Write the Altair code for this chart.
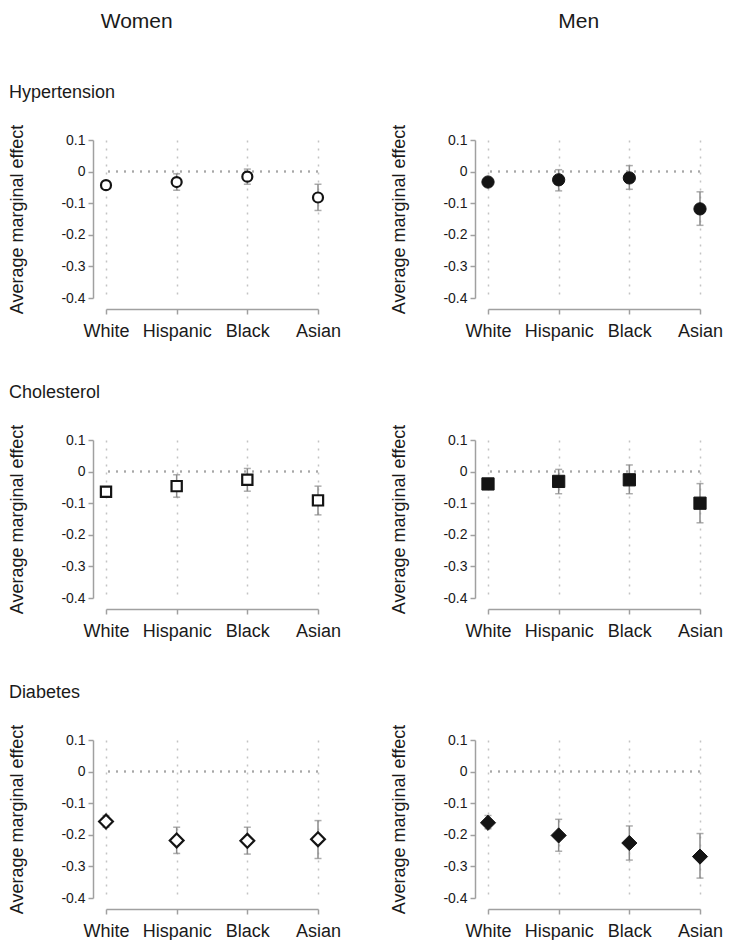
import altair as alt
import pandas as pd

FONT = "Liberation Sans"

groups = ["White", "Hispanic", "Black", "Asian"]
sexes = ["Women", "Men"]
conditions = ["Hypertension", "Cholesterol", "Diabetes"]
shapes = ["circle", "square", "diamond"]
sizes_hollow = [100, 105, 190]
sizes_filled = [150, 150, 230]

# Average marginal effects with 95% CI (lo, hi)
hyp_women = [-0.043, -0.033, -0.016, -0.082]
hyp_women_lo = [-0.050, -0.059, -0.040, -0.123]
hyp_women_hi = [-0.036, -0.007, 0.008, -0.040]
hyp_men = [-0.033, -0.026, -0.020, -0.118]
hyp_men_lo = [-0.040, -0.061, -0.056, -0.170]
hyp_men_hi = [-0.026, 0.006, 0.019, -0.064]

chol_women = [-0.064, -0.046, -0.026, -0.091]
chol_women_lo = [-0.071, -0.081, -0.062, -0.137]
chol_women_hi = [-0.057, -0.010, 0.010, -0.046]
chol_men = [-0.039, -0.031, -0.026, -0.100]
chol_men_lo = [-0.046, -0.070, -0.070, -0.162]
chol_men_hi = [-0.032, 0.007, 0.021, -0.038]

diab_women = [-0.158, -0.218, -0.219, -0.214]
diab_women_lo = [-0.176, -0.259, -0.261, -0.275]
diab_women_hi = [-0.139, -0.176, -0.176, -0.155]
diab_men = [-0.162, -0.202, -0.226, -0.269]
diab_men_lo = [-0.181, -0.252, -0.280, -0.337]
diab_men_hi = [-0.139, -0.151, -0.172, -0.196]

y_ticks = [-0.4, -0.3, -0.2, -0.1, 0, 0.1]

series = {
    ("Hypertension", "Women"): (hyp_women, hyp_women_lo, hyp_women_hi),
    ("Hypertension", "Men"): (hyp_men, hyp_men_lo, hyp_men_hi),
    ("Cholesterol", "Women"): (chol_women, chol_women_lo, chol_women_hi),
    ("Cholesterol", "Men"): (chol_men, chol_men_lo, chol_men_hi),
    ("Diabetes", "Women"): (diab_women, diab_women_lo, diab_women_hi),
    ("Diabetes", "Men"): (diab_men, diab_men_lo, diab_men_hi),
}

PW, PH = 212, 158
AXIS_GREY = "#a0a0a0"
TEXT = "#1a1a1a"
ERR = "#8a8a8a"

x_axis = alt.Axis(
    title=None, labelAngle=0, labelFontSize=18, labelFont=FONT, labelColor=TEXT,
    labelPadding=8, offset=11, domainColor=AXIS_GREY, domainWidth=1.5,
    tickColor=AXIS_GREY, tickWidth=1.5, tickSize=5,
    grid=True, gridDash=[2, 6], gridColor="#c4c4c4", gridWidth=1.5,
)
y_axis = alt.Axis(
    title="Average marginal effect", values=y_ticks,
    labelExpr="toString(round(datum.value * 10) / 10)",
    labelFontSize=14, labelFont=FONT, labelColor=TEXT, labelPadding=3,
    offset=13, domainColor=AXIS_GREY, domainWidth=1.5,
    tickColor=AXIS_GREY, tickWidth=1.5, tickSize=5, grid=False,
    titleFontSize=18, titleFont=FONT, titleColor=TEXT, titleFontWeight="normal",
    titlePadding=34,
)
y_scale = alt.Scale(domain=[-0.4, 0.1], nice=False, zero=False)
x_enc = alt.X("group:N", sort=groups,
              scale=alt.Scale(type="point", domain=groups, padding=0), axis=x_axis)


def panel(cond, sex, shape, size_h, size_f):
    est, lo, hi = series[(cond, sex)]
    df = pd.DataFrame({"group": groups, "est": est, "lo": lo, "hi": hi})
    base = alt.Chart(df)
    zero = base.mark_rule(color="#a8a8a8", strokeDash=[2, 6], strokeWidth=1.5).encode(
        y=alt.datum(0, scale=y_scale, axis=y_axis)
    )
    bars = base.mark_rule(color=ERR, strokeWidth=1.5).encode(
        x=x_enc, y=alt.Y("lo:Q", scale=y_scale, axis=y_axis), y2="hi:Q"
    )
    cap_lo = base.mark_tick(color=ERR, size=7, thickness=1.5, orient="horizontal").encode(
        x=x_enc, y=alt.Y("lo:Q", scale=y_scale, axis=y_axis)
    )
    cap_hi = base.mark_tick(color=ERR, size=7, thickness=1.5, orient="horizontal").encode(
        x=x_enc, y=alt.Y("hi:Q", scale=y_scale, axis=y_axis)
    )
    hollow = sex == "Women"
    pts = base.mark_point(
        shape=shape, size=size_h if hollow else size_f, filled=True,
        fill="white" if hollow else "#141414",
        stroke="#141414", strokeWidth=2.2 if hollow else 1, opacity=1,
    ).encode(x=x_enc, y=alt.Y("est:Q", scale=y_scale, axis=y_axis))
    title = alt.TitleParams(
        text=cond if sex == "Women" else " ", anchor="start", frame="bounds",
        fontSize=18, font=FONT, fontWeight="normal", color=TEXT, offset=22,
    )
    return alt.layer(zero, bars, cap_lo, cap_hi, pts).properties(
        width=PW, height=PH, title=title
    )


columns = []
for sex, dx in zip(sexes, [-38, 22]):
    col = alt.vconcat(
        *[panel(c, sex, sh, sh_h, sh_f)
          for c, sh, sh_h, sh_f in zip(conditions, shapes, sizes_hollow, sizes_filled)],
        spacing=44,
    ).properties(
        title=alt.TitleParams(
            text=sex, anchor="middle", frame="bounds", fontSize=21, font=FONT,
            fontWeight="normal", color=TEXT, offset=52, dx=dx,
        )
    )
    columns.append(col)

chart = alt.hconcat(*columns, spacing=49).properties(
    padding={"left": 0, "top": 3, "right": 0, "bottom": 0}
).configure_view(stroke=None)

chart.save("out.html", embed_options={"renderer": "svg", "actions": False})
